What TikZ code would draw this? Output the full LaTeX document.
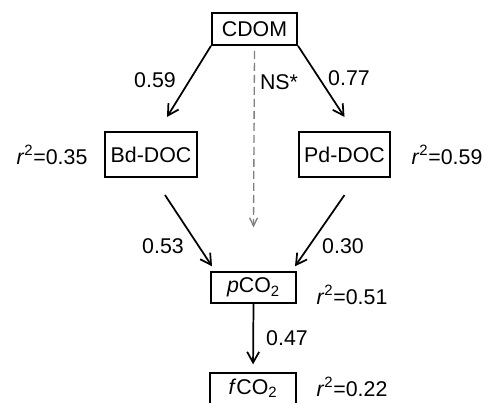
\documentclass[tikz,border=0pt]{standalone}
\usepackage{fontspec}
\setmainfont{Liberation Sans}
\usetikzlibrary{arrows.meta,calc}
\tikzset{
  box/.style={draw,line width=1.3pt,inner sep=0pt,minimum height=24pt},
  arr/.style={line width=1.3pt,-{Straight Barb[length=8pt,width=9pt,line width=1.3pt]}},
  nsarr/.style={gray,line width=1pt,dash pattern={on 6pt off 3pt},-{Straight Barb[length=6pt,width=6pt,line width=1pt]}},
  lab/.style={inner sep=0.75pt}
}
\begin{document}
\begin{tikzpicture}[x=0.75pt,y=0.75pt,yscale=-1,xscale=1,font=\fontsize{16}{19}\selectfont]
\useasboundingbox (0,0) rectangle (486,403);
\clip (0,0) rectangle (486,403);

%Shape: Rectangle
\draw (254.5,29) node [box,minimum width=64pt] (cdom) {CDOM};
%Shape: Rectangle
\draw (151,154.5) node [box,minimum width=69pt,minimum height=34pt] (bd) {Bd-DOC};
%Shape: Rectangle
\draw (344.5,154.5) node [box,minimum width=68pt,minimum height=34pt] (pd) {Pd-DOC};
%Shape: Rectangle
\draw (253.5,287.5) node [box,minimum width=64pt,minimum height=23pt] (pco) {\textit{p}CO\textsubscript{2}};
%Shape: Rectangle
\draw (253,388.5) node [box,minimum width=65pt,minimum height=23pt] (fco) {\textit{f}CO\textsubscript{2}};

%Straight Lines
\draw [arr] (cdom.south west) -- ($(bd.north)+(16,-14)$);
\draw [arr] (cdom.south east) -- ($(pd.north)+(0,-14)$);
\draw [nsarr] ($(cdom.south)+(0,5)$) -- ($(pco.north)+(0,-44)$);
\draw [arr] ($(bd.south)+(14,17)$) -- ($(pco.north)+(-41.5,-5)$);
\draw [arr] ($(pd.south)+(0,17)$) -- ($(pco.north)+(41.5,-5)$);
\draw [arr,shorten >=6pt] (pco.south) -- (fco.north);

% Text Node
\draw (155,80) node [lab] (l59) {0.59};
% Text Node
\draw (349,78) node [lab] (l77) {0.77};
% Text Node
\draw (279,82) node [lab] (lns) {NS*};
% Text Node
\draw (52,155) node [lab] (r35) {\textit{r}\textsuperscript{2}=0.35};
% Text Node
\draw (447,155) node [lab] (r59) {\textit{r}\textsuperscript{2}=0.59};
% Text Node
\draw (163,246) node [lab] (l53) {0.53};
% Text Node
\draw (343,246) node [lab] (l30) {0.30};
% Text Node
\draw (287,338) node [lab] (l47) {0.47};
% Text Node
\draw (352,295) node [lab] (r51) {\textit{r}\textsuperscript{2}=0.51};
% Text Node
\draw (352,387) node [lab] (r22) {\textit{r}\textsuperscript{2}=0.22};

\end{tikzpicture}
\end{document}
